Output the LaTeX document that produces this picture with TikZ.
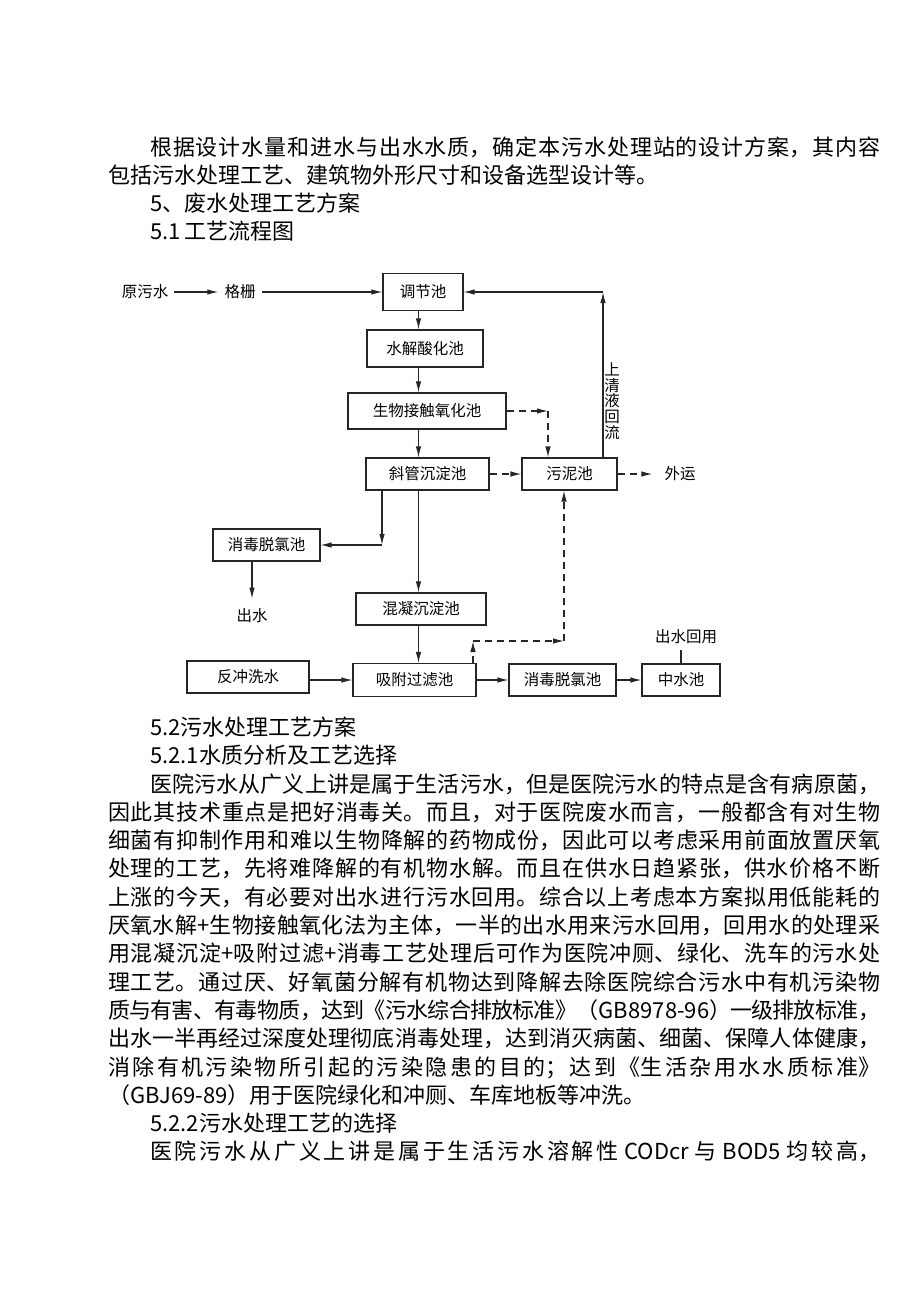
\documentclass[tikz,border=0pt]{standalone}
\usepackage{fontspec}
\usetikzlibrary{arrows.meta}
\newfontfamily\cjk{Noto Sans CJK SC}
\newcommand\jline[2]{\parbox[b]{#1}{\XeTeXlinebreaklocale "zh"%
  \XeTeXlinebreakskip=0pt plus 8pt minus 2.2pt\XeTeXlinebreakpenalty=10000
  \parfillskip=0pt\tolerance=10000\hbadness=10000\hfuzz=60pt #2\par}}
\tikzset{
  pool/.style={draw=black!85, line width=1.1pt, fill=white, inner sep=0pt,
    minimum height=32pt, font=\cjk\fontsize{15.5}{18}\selectfont},
  tag/.style={inner sep=6pt, font=\cjk\fontsize{15.5}{15.6}\selectfont, align=center},
  flow/.style={-{Latex[length=11pt,width=5.5pt]}, line width=1.1pt, draw=black!85},
  sludge/.style={flow, dash pattern=on 7pt off 5pt},
  para/.style={anchor=base west, inner sep=0pt, font=\cjk\fontsize{22}{26}\selectfont}
}
\begin{document}
\begin{tikzpicture}[x=1pt, y=-1pt]
  \fill[white] (0,0) rectangle (920,1302);
  \useasboundingbox (0,0) rectangle (920,1302);

  \node[para] (t1) at (150,155.4) {\jline{730pt}{根据设计水量和进水与出水水质，确定本污水处理站的设计方案，其内容}};
  \node[para] (t2) at (108,183.4) {包括污水处理工艺、建筑物外形尺寸和设备选型设计等。};
  \node[para] (t3) at (150,211.4) {5、废水处理工艺方案};
  \node[para] (t4) at (150,239.4) {5.1\,工艺流程图};

  \node[tag] (yws) at (145,292) {原污水};
  \node[tag] (gs) at (240,292) {格栅};
  \node[pool, minimum width=80pt, minimum height=37pt] (tj) at (423,292) {调节池};
  \node[pool, minimum width=116pt, minimum height=37pt] (sj) at (425,348.5) {水解酸化池};
  \node[pool, minimum width=158pt, minimum height=36pt] (sw) at (427,411) {生物接触氧化池};
  \node[pool, minimum width=123pt] (xg) at (427.5,474) {斜管沉淀池};
  \node[pool, minimum width=95pt] (wn) at (569.5,474) {污泥池};
  \node[tag] (wy) at (680,474) {外运};
  \node[tag] (hl) at (612,401) {上\\清\\液\\回\\流};
  \node[pool, minimum width=107pt] (xd1) at (266.5,545) {消毒脱氯池};
  \node[tag] (cs) at (252,616) {出水};
  \node[pool, minimum width=130pt] (hn) at (421,609) {混凝沉淀池};
  \node[pool, minimum width=122pt] (fc) at (248,677) {反冲洗水};
  \node[pool, minimum width=123pt, minimum height=33pt] (xf) at (414.5,680) {吸附过滤池};
  \node[pool, minimum width=107pt] (xd2) at (562.5,680) {消毒脱氯池};
  \node[pool, minimum width=78pt] (zs) at (681,680) {中水池};
  \node[tag] (hy) at (686,637) {出水回用};

  \coordinate (tx) at (418.5,0);
  \coordinate (br) at (382,545);
  \coordinate (c1) at (548,411);
  \coordinate (c2) at (473,641);
  \coordinate (c3) at (564,641);
  \coordinate (c4) at (603,292);

  \draw[flow] (yws) -- (gs);
  \draw[flow] (gs) -- (gs -| tj.west);
  \draw[flow] (tj.south -| tx) -- (sj.north -| tx);
  \draw[flow] (sj.south -| tx) -- (sw.north -| tx);
  \draw[flow] (sw.south -| tx) -- (xg.north -| tx);
  \draw[flow] (xg.south -| tx) -- (hn.north -| tx);
  \draw[flow] (hn.south -| tx) -- (xf.north -| tx);
  \draw[flow] (xg.south -| br) -- (br);
  \draw[flow] (br) -- (xd1.east);
  \draw[flow, shorten >=4pt] (xd1.south -| cs) -- (cs.north);
  \draw[flow] (fc.east |- xf.west) -- (xf.west);
  \draw[flow] (xf) -- (xd2);
  \draw[flow] (xd2) -- (zs);
  \draw[line width=1.1pt, draw=black!85] (zs.north) -- (zs.north |- hy.south);
  \draw[flow] (wn.north -| c4) -- (c4);
  \draw[flow] (c4) -- (tj.east);

  \draw[sludge] (sw.east) -- (c1);
  \draw[sludge] (c1) -- (c1 |- wn.north);
  \draw[sludge] (xg) -- (wn);
  \draw[sludge, shorten >=6pt] (wn.east) -- (wy);
  \draw[sludge] (xf.north -| c2) -- (c2);
  \draw[sludge] (c2) -- (c3);
  \draw[sludge] (c3) -- (c3 |- wn.south);

  \node[para] (p0) at (150,735.4) {5.2污水处理工艺方案};
  \node[para] (p1) at (150,763.7) {5.2.1水质分析及工艺选择};
  \node[para] (p2) at (150,792) {\jline{730pt}{医院污水从广义上讲是属于生活污水，但是医院污水的特点是含有病原菌，}};
  \node[para] (p3) at (108,820.3) {\jline{772pt}{因此其技术重点是把好消毒关。而且，对于医院废水而言，一般都含有对生物}};
  \node[para] (p4) at (108,848.6) {\jline{772pt}{细菌有抑制作用和难以生物降解的药物成份，因此可以考虑采用前面放置厌氧}};
  \node[para] (p5) at (108,876.9) {\jline{772pt}{处理的工艺，先将难降解的有机物水解。而且在供水日趋紧张，供水价格不断}};
  \node[para] (p6) at (108,905.2) {\jline{772pt}{上涨的今天，有必要对出水进行污水回用。综合以上考虑本方案拟用低能耗的}};
  \node[para] (p7) at (108,933.5) {\jline{772pt}{厌氧水解+生物接触氧化法为主体，一半的出水用来污水回用，回用水的处理采}};
  \node[para] (p8) at (108,961.8) {\jline{772pt}{用混凝沉淀+吸附过滤+消毒工艺处理后可作为医院冲厕、绿化、洗车的污水处}};
  \node[para] (p9) at (108,990.1) {\jline{772pt}{理工艺。通过厌、好氧菌分解有机物达到降解去除医院综合污水中有机污染物}};
  \node[para] (p10) at (108,1018.4) {\jline{772pt}{质与有害、有毒物质，达到《污水综合排放标准》（GB8978-96）一级排放标准，}};
  \node[para] (p11) at (108,1046.7) {\jline{772pt}{出水一半再经过深度处理彻底消毒处理，达到消灭病菌、细菌、保障人体健康，}};
  \node[para] (p12) at (108,1075) {\jline{772pt}{消除有机污染物所引起的污染隐患的目的；达到《生活杂用水水质标准》}};
  \node[para] (p13) at (108,1103.3) {（GBJ69-89）用于医院绿化和冲厕、车库地板等冲洗。};
  \node[para] (p14) at (150,1131.6) {5.2.2污水处理工艺的选择};
  \node[para] (p15) at (150,1159.9) {\jline{730pt}{医院污水从广义上讲是属于生活污水溶解性~CODcr~与~BOD5~均较高，}};
\end{tikzpicture}
\end{document}
